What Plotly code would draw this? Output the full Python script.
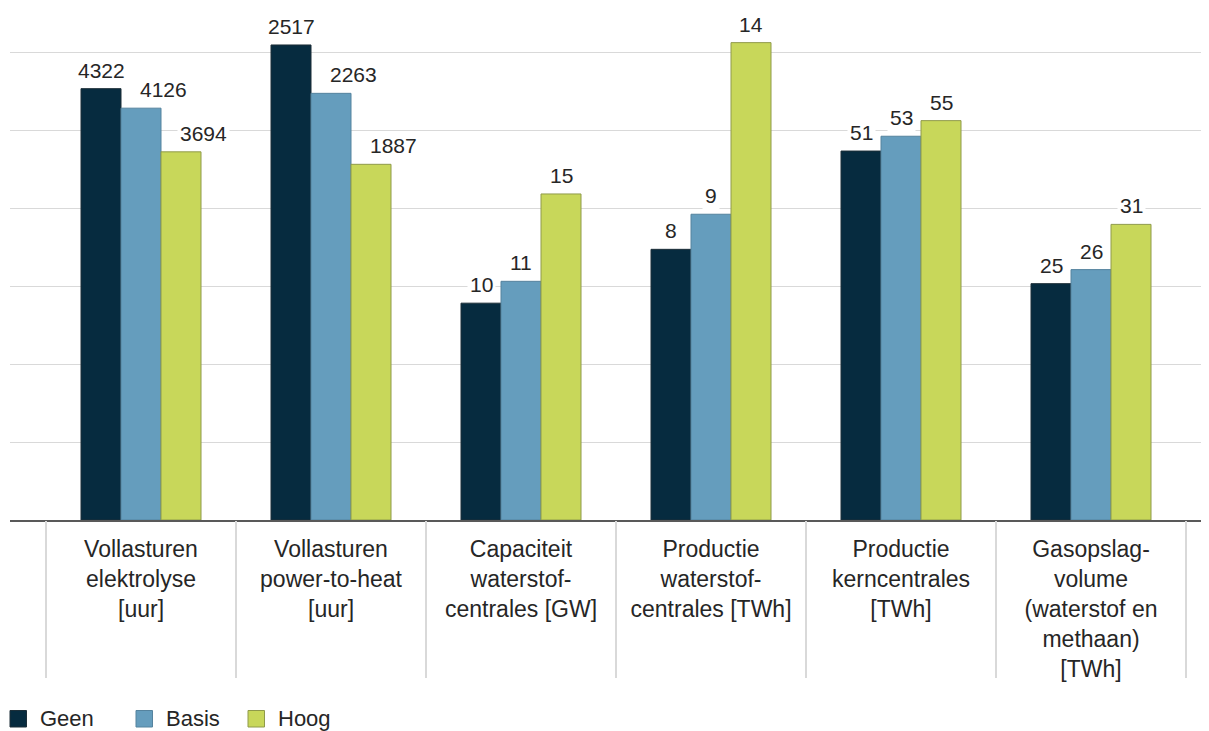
import plotly.graph_objects as go

# ---------------- data ----------------
categories = [
    "Vollasturen<br>elektrolyse<br>[uur]",
    "Vollasturen<br>power-to-heat<br>[uur]",
    "Capaciteit<br>waterstof-<br>centrales [GW]",
    "Productie<br>waterstof-<br>centrales [TWh]",
    "Productie<br>kerncentrales<br>[TWh]",
    "Gasopslag-<br>volume<br>(waterstof en<br>methaan)<br>[TWh]",
]
series_names = ["Geen", "Basis", "Hoog"]

# values printed above the bars
geen_values = [4322, 2517, 10, 8, 51, 25]
basis_values = [4126, 2263, 11, 9, 53, 26]
hoog_values = [3694, 1887, 15, 14, 55, 31]

# bar heights on the (hidden, per-indicator normalised) value axis
geen_heights = [5.53, 6.09, 2.78, 3.47, 4.73, 3.03]
basis_heights = [5.28, 5.47, 3.06, 3.92, 4.92, 3.21]
hoog_heights = [4.72, 4.56, 4.18, 6.12, 5.12, 3.79]

# ---------------- style ----------------
colors = ["#062b3f", "#659dbd", "#c8d75a"]
border_colors = ["#1c2e38", "#55839e", "#8f9a4a"]
FONT = "Liberation Sans, Arial, sans-serif"
TEXT_COLOR = "#262626"
GRID = "#d9d9d9"

PAGE_OFF = 8  # default body margin of the html page
WIN_W, WIN_H = 1209, 731
W, H = WIN_W - PAGE_OFF, WIN_H - PAGE_OFF
# plot area in window pixels: x 10..1209, y 10..520
M_L, M_R, M_T, M_B = 10 - PAGE_OFF, 0, 10 - PAGE_OFF, WIN_H - 520
PLOT_H = H - M_T - M_B
PX_PER_UNIT = 78.0
BARGAP = 0.3684
X_RANGE = [-0.6895, 5.621]

all_heights = [geen_heights, basis_heights, hoog_heights]
all_values = [geen_values, basis_values, hoog_values]
xs = list(range(len(categories)))

fig = go.Figure()
for name, hts, col, bcol in zip(series_names, all_heights, colors, border_colors):
    fig.add_trace(go.Bar(
        x=xs, y=hts, name=name,
        marker=dict(color=col, line=dict(color=bcol, width=1)),
        showlegend=False, hoverinfo="skip",
    ))

# empty helper trace so the category-divider axis (x2) gets drawn
fig.add_trace(go.Scatter(x=[None], y=[None], xaxis="x2", yaxis="y",
                         mode="markers", showlegend=False, hoverinfo="skip"))

# value labels with white background
bar_w = (1 - BARGAP) / len(series_names)
label_xshift = {1: 22, 2: 22}  # wide (4-digit) labels of Basis/Hoog sit to the right
annotations = []
for j, (hts, vals) in enumerate(zip(all_heights, all_values)):
    off = (j - (len(series_names) - 1) / 2) * bar_w
    for i, (h, v) in enumerate(zip(hts, vals)):
        xshift = label_xshift.get(j, 0) if v >= 1000 else 0
        annotations.append(dict(
            x=i + off, y=h, xref="x", yref="y", text=str(v),
            showarrow=False, yanchor="bottom", xanchor="center",
            yshift=4, xshift=xshift,
            font=dict(family=FONT, size=21, color=TEXT_COLOR),
            bgcolor="white", borderpad=2,
        ))

# legend (manual, to match the square markers); positions in window pixels
plot_w = W - M_L - M_R


def px_to_paper(px, py):
    return (px - PAGE_OFF - M_L) / plot_w, (H - M_B - (py - PAGE_OFF)) / PLOT_H


legend_x = [10, 136, 248]
legend_y = 710.5
sq = 16.5
shapes = []
for name, col, bcol, lx in zip(series_names, colors, border_colors, legend_x):
    x0, y1 = px_to_paper(lx, legend_y)
    x1, y0 = px_to_paper(lx + sq, legend_y + sq)
    shapes.append(dict(type="rect", xref="paper", yref="paper",
                       x0=x0, x1=x1, y0=y0, y1=y1,
                       fillcolor=col, line=dict(color=bcol, width=1)))
    tx, ty = px_to_paper(lx + 28, legend_y + sq / 2)
    annotations.append(dict(x=tx, y=ty, xref="paper", yref="paper", text=name,
                            showarrow=False, xanchor="left", yanchor="middle",
                            font=dict(family=FONT, size=22, color=TEXT_COLOR)))

fig.update_layout(
    width=W, height=H,
    margin=dict(l=M_L, r=M_R, t=M_T, b=M_B, autoexpand=False),
    paper_bgcolor="white", plot_bgcolor="white",
    barmode="group", bargap=BARGAP, bargroupgap=0,
    showlegend=False,
    xaxis=dict(
        range=X_RANGE, tickvals=xs, ticktext=categories,
        showgrid=False, zeroline=False, ticks="",
        showline=True, linecolor="#595959", linewidth=1.5,
        tickfont=dict(family=FONT, size=23, color=TEXT_COLOR),
        ticklabelstandoff=8,
    ),
    xaxis2=dict(
        overlaying="x", anchor="y", side="bottom", range=X_RANGE,
        tickvals=[x - 0.5 for x in xs] + [xs[-1] + 0.5],
        ticks="outside", ticklen=157, tickcolor=GRID, tickwidth=2,
        showticklabels=False, showgrid=False, zeroline=False, showline=False,
    ),
    yaxis=dict(
        range=[0, PLOT_H / PX_PER_UNIT], dtick=1, tick0=0,
        showgrid=True, gridcolor=GRID, gridwidth=1,
        showticklabels=False, zeroline=False, ticks="",
    ),
    annotations=annotations,
    shapes=shapes,
)

fig.write_html("out.html")
